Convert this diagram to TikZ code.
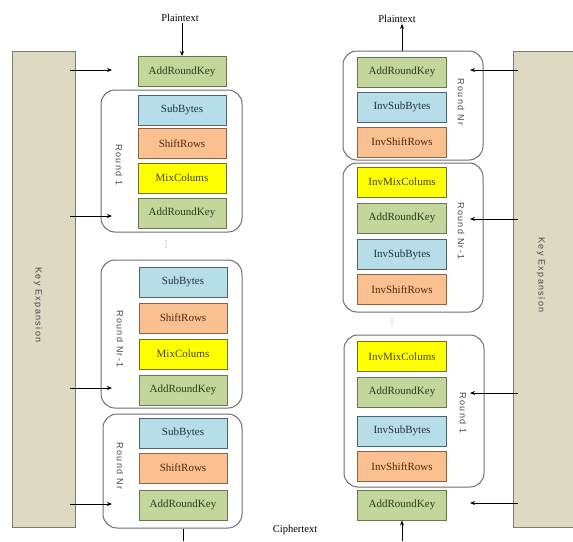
\documentclass[tikz,border=0pt]{standalone}
\usepackage{fontspec}
\setmainfont{Liberation Serif}
\newfontfamily\lblfont[LetterSpace=15]{Liberation Sans}
\newfontfamily\dejavu{DejaVu Sans}
\usetikzlibrary{arrows.meta}
\definecolor{gfill}{RGB}{195,214,155}
\definecolor{gdraw}{RGB}{105,118,80}
\definecolor{gtext}{RGB}{45,60,25}
\definecolor{bfill}{RGB}{183,221,232}
\definecolor{bdraw}{RGB}{75,100,115}
\definecolor{btext}{RGB}{30,50,70}
\definecolor{ofill}{RGB}{250,192,144}
\definecolor{odraw}{RGB}{140,100,70}
\definecolor{otext}{RGB}{80,40,15}
\definecolor{yfill}{RGB}{255,255,0}
\definecolor{ydraw}{RGB}{110,110,50}
\definecolor{ytext}{RGB}{70,70,0}
\definecolor{tfill}{RGB}{221,217,195}
\definecolor{tdraw}{RGB}{125,125,110}
\definecolor{rdraw}{RGB}{110,110,110}
\begin{document}
\begin{tikzpicture}[x=1pt,y=-1pt,
  opbox/.style={draw, line width=1pt, minimum height=30pt, inner sep=0pt,
    font=\fontsize{11}{13}\selectfont},
  ark/.style={opbox, fill=gfill, draw=gdraw, text=gtext},
  sb/.style={opbox, fill=bfill, draw=bdraw, text=btext},
  sr/.style={opbox, fill=ofill, draw=odraw, text=otext},
  mc/.style={opbox, fill=yfill, draw=ydraw, text=ytext},
  lw/.style={minimum width=88pt},
  rw/.style={minimum width=89pt},
  roundbox/.style={draw=rdraw, line width=1pt, rounded corners=14pt, fill=white, inner sep=0pt},
  keybox/.style={draw=tdraw, line width=1pt, fill=tfill, inner sep=0pt},
  rlabel/.style={rotate=-90, text=black!72, font=\lblfont\fontsize{9}{10}\selectfont},
  txt/.style={font=\fontsize{10.5}{12}\selectfont, inner sep=1pt},
  dots/.style={text=black!45, font=\dejavu\fontsize{9}{9}\selectfont, inner sep=0pt},
  arr/.style={line width=0.8pt, -{Stealth[length=5pt,width=4pt]}}
]
\useasboundingbox (0,0) rectangle (573,541);

% key expansion boxes
\node[keybox, minimum width=63pt, minimum height=476pt] (kl) at (43.5,289) {};
\node[keybox, minimum width=60pt, minimum height=476pt] (kr) at (543,289) {};
\node[rlabel] (kll) at (38,305) {Key Expansion};
\node[rlabel] (krl) at (541,275) {Key Expansion};

% round boxes (left)
\node[roundbox, minimum width=141pt, minimum height=142pt] (lr1) at (171.5,161) {};
\node[roundbox, minimum width=141pt, minimum height=148pt] (lr2) at (171.5,334) {};
\node[roundbox, minimum width=139pt, minimum height=114pt] (lr3) at (172.5,471) {};
% round boxes (right)
\node[roundbox, minimum width=140pt, minimum height=109pt] (rr1) at (413,105.5) {};
\node[roundbox, minimum width=140pt, minimum height=149pt] (rr2) at (413,237.5) {};
\node[roundbox, minimum width=140pt, minimum height=152pt] (rr3) at (414,411) {};

% left column
\node[ark, lw] (la0) at (182,71.5) {AddRoundKey};
\node[sb, lw] (lb1) at (182,110) {SubBytes};
\node[sr, lw] (ls1) at (182,143.5) {ShiftRows};
\node[mc, lw] (lm1) at (182,178) {MixColums};
\node[ark, lw] (la1) at (182,213) {AddRoundKey};
\node[sb, lw] (lb2) at (183,282) {SubBytes};
\node[sr, lw] (ls2) at (183,318) {ShiftRows};
\node[mc, lw] (lm2) at (183,354) {MixColums};
\node[ark, lw] (la2) at (183,390) {AddRoundKey};
\node[sb, lw] (lb3) at (183,433) {SubBytes};
\node[sr, lw] (ls3) at (183,468) {ShiftRows};
\node[ark, lw] (la3) at (183,505) {AddRoundKey};

% right column
\node[ark, rw] (ra0) at (402,72) {AddRoundKey};
\node[sb, rw] (rb0) at (402,107) {InvSubBytes};
\node[sr, rw] (rs0) at (402,142) {InvShiftRows};
\node[mc, rw] (rm1) at (402,182) {InvMixColums};
\node[ark, rw] (ra1) at (402,218) {AddRoundKey};
\node[sb, rw] (rb1) at (402,254.5) {InvSubBytes};
\node[sr, rw] (rs1) at (402,289.5) {InvShiftRows};
\node[mc, rw] (rm2) at (402,356.5) {InvMixColums};
\node[ark, rw] (ra2) at (402,392) {AddRoundKey};
\node[sb, rw] (rb2) at (402,431) {InvSubBytes};
\node[sr, rw] (rs2) at (402,466.5) {InvShiftRows};
\node[ark, rw] (ra3) at (402,505) {AddRoundKey};

% round labels
\node[rlabel] (l1) at (119,165) {Round 1};
\node[rlabel] (l2) at (120,339) {Round Nr-1};
\node[rlabel] (l3) at (120,466) {Round Nr};
\node[rlabel] (r1) at (461,102) {Round Nr};
\node[rlabel] (r2) at (461,231) {Round Nr-1};
\node[rlabel] (r3) at (463,413) {Round 1};

% dots
\node[dots] (d1) at (166,245) {⋮};
\node[dots] (d2) at (392,322) {⋮};

% texts
\node[txt] (pl) at (180,18) {Plaintext};
\node[txt] (pr) at (397,19) {Plaintext};
\node[txt] (ct) at (295,530) {Ciphertext};

% plaintext / ciphertext connectors
\draw[arr] (pl.south -| la0.north) -- (la0.north);
\draw[arr] (ra0.north |- rr1.north) -- (ra0.north |- pr.south);
\coordinate (lbot) at (183,541);
\coordinate (rbot) at (402,541);
\draw[line width=0.8pt] (la3.south |- lr3.south) -- (lbot);
\draw[arr] (rbot) -- (ra3.south);

% key arrows left
\foreach \y/\n in {70/a,216/b,388/c,504/d}{
  \coordinate (ls\n) at (70,\y);
  \coordinate (le\n) at (112,\y);
  \draw[arr] (ls\n) -- (le\n);
}
% key arrows right
\foreach \y/\n in {70/a,219/b,393/c,503/d}{
  \coordinate (rs\n) at (518,\y);
  \coordinate (re\n) at (470,\y);
  \draw[arr] (rs\n) -- (re\n);
}
\end{tikzpicture}
\end{document}
